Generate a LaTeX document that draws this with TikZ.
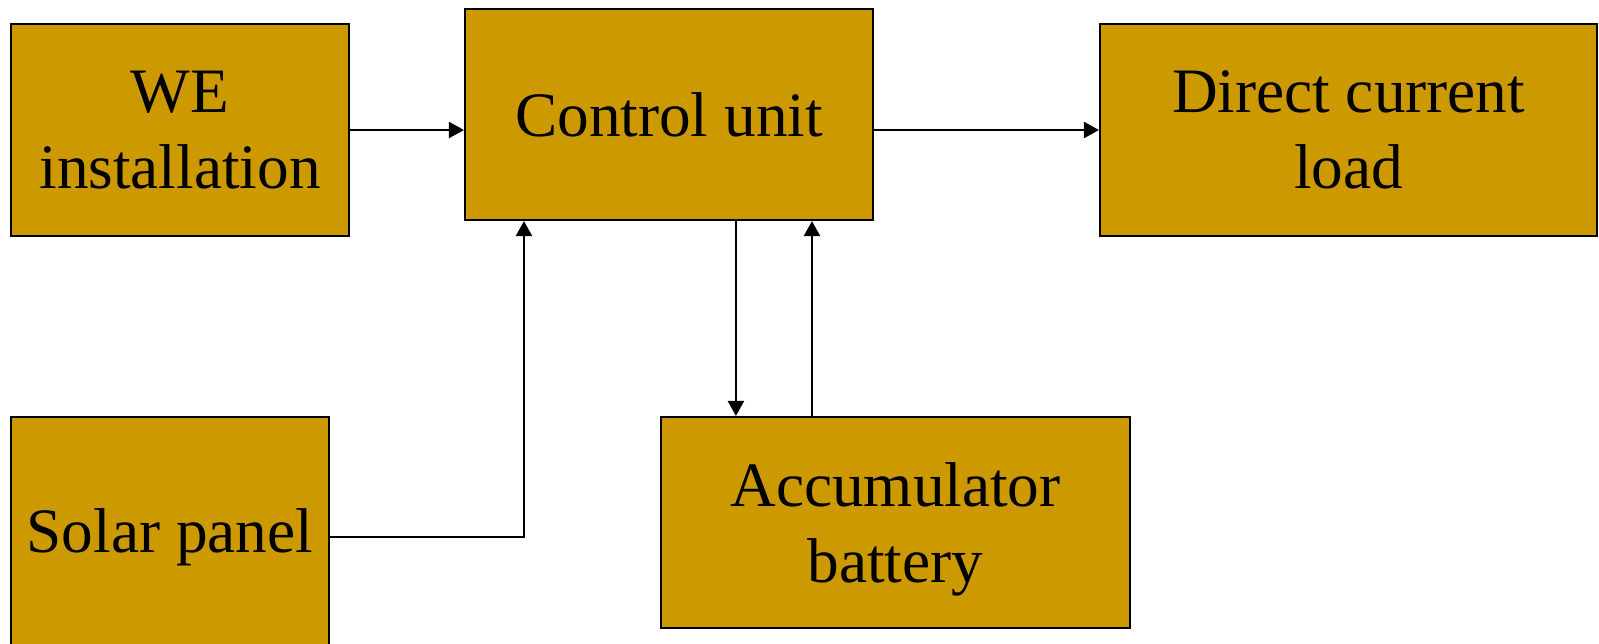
\documentclass[tikz,border=0pt]{standalone}
\usepackage{fontspec}
\setmainfont{Liberation Serif}
\usepackage{xcolor}
\usepackage{tikz}
\usetikzlibrary{arrows.meta}
\definecolor{ochre}{HTML}{CC9900}

\begin{document}
\begin{tikzpicture}[
    every node/.style={font=\fontsize{18}{21.8}\selectfont, text=black, align=center, inner sep=0pt},
    block/.style={draw=black, line width=0.6pt, fill=ochre},
    arrow/.style={-{Triangle[length=1.5mm, width=1.6mm]}, line width=0.6pt}
]
\clip (0,0) rectangle (15.99,-6.43);
\useasboundingbox (0,0) rectangle (15.99,-6.43);
\node[block, minimum width=3.38cm, minimum height=2.12cm] (we) at (1.80, -1.30) {WE\\installation};
\node[block, minimum width=4.08cm, minimum height=2.11cm] (ctrl) at (6.69, -1.145) {Control unit};
\node[block, minimum width=4.97cm, minimum height=2.12cm] (load) at (13.485, -1.30) {Direct current\\load};
\node[block, minimum width=3.18cm, minimum height=2.40cm] (solar) at (1.70, -5.37) {Solar panel};
\node[block, minimum width=4.69cm, minimum height=2.11cm] (acc) at (8.955, -5.225) {Accumulator\\\smash{battery}};
\coordinate (solarin) at ([xshift=0.60cm]ctrl.south west);
\coordinate (accin) at ([xshift=0.76cm]acc.north west);
\coordinate (accout) at ([xshift=1.52cm]acc.north west);
\draw[arrow] (we.east) -- (we.east -| ctrl.west);
\draw[arrow] (load.west -| ctrl.east) -- (load.west);
\draw[arrow] (solar.east) -| (solarin);
\draw[arrow] (accin |- ctrl.south) -- (accin);
\draw[arrow] (accout) -- (accout |- ctrl.south);
\end{tikzpicture}
\end{document}
